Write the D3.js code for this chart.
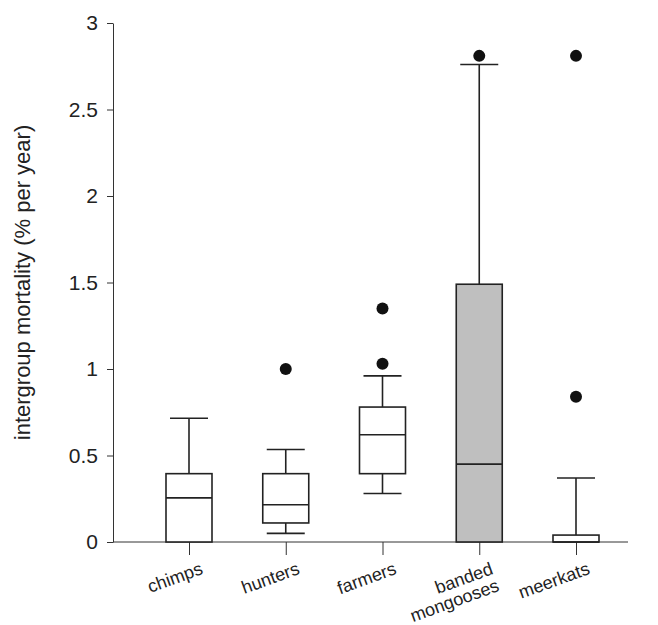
<!DOCTYPE html>
<html><head><meta charset="utf-8">
<script src="https://cdn.jsdelivr.net/npm/d3@7"></script>
<style>body{margin:0;background:#fff}</style></head>
<body><svg id="c" width="658" height="625"></svg>
<script>
const categories = ["chimps","hunters","farmers","banded\nmongooses","meerkats"];
const q1 =      [0,    0.11, 0.395, 0,    0];
const median =  [0.255,0.215,0.62,  0.45, 0];
const q3 =      [0.395,0.395,0.78,  1.49, 0.04];
const whiskLo = [0,    0.05, 0.28,  0,    0];
const whiskHi = [0.715,0.535,0.96,  2.76, 0.37];
const outliers = [[],[1.0],[1.03,1.35],[2.81],[0.84,2.81]];
const fills = ["#fff","#fff","#fff","#bfbfbf","#fff"];
const yTicks = [0,0.5,1,1.5,2,2.5,3];

const svg = d3.select("#c");
const y = d3.scaleLinear().domain([0,3]).range([542,23]);
const x = d3.scalePoint().domain(categories).range([189,576]);
const bw = 46;
const font = "Liberation Sans, Arial, sans-serif";

const ya = svg.append("g").attr("transform","translate(113,0)")
  .call(d3.axisLeft(y).tickValues(yTicks).tickSize(6).tickSizeOuter(0).tickFormat(d3.format("")));
ya.select(".domain").attr("stroke","#333");
ya.selectAll("line").attr("stroke","#333");
ya.selectAll("text").attr("font-family",font).attr("font-size",21).attr("fill","#222").attr("dx",-6);

const xa = svg.append("g").attr("transform","translate(0,"+y(0)+")")
  .call(d3.axisBottom(x).tickSize(13).tickFormat(""));
xa.select(".domain").attr("d","M113,0H628").attr("stroke","#333");
xa.selectAll("line").attr("stroke","#333");

categories.forEach((c,i)=>{
  const cx = x(c);
  const g = svg.append("g").attr("stroke","#222").attr("stroke-width",1.6);
  g.append("line").attr("x1",cx).attr("x2",cx).attr("y1",y(q3[i])).attr("y2",y(whiskHi[i]));
  g.append("line").attr("x1",cx-19).attr("x2",cx+19).attr("y1",y(whiskHi[i])).attr("y2",y(whiskHi[i]));
  if (whiskLo[i] < q1[i]) {
    g.append("line").attr("x1",cx).attr("x2",cx).attr("y1",y(q1[i])).attr("y2",y(whiskLo[i]));
    g.append("line").attr("x1",cx-19).attr("x2",cx+19).attr("y1",y(whiskLo[i])).attr("y2",y(whiskLo[i]));
  }
  g.append("rect").attr("x",cx-bw/2).attr("width",bw).attr("y",y(q3[i])).attr("height",y(q1[i])-y(q3[i])).attr("fill",fills[i]);
  g.append("line").attr("x1",cx-bw/2).attr("x2",cx+bw/2).attr("y1",y(median[i])).attr("y2",y(median[i]));
  outliers[i].forEach(v=>svg.append("circle").attr("cx",cx).attr("cy",y(v)).attr("r",6).attr("fill","#111"));
  const t = svg.append("text").attr("font-family",font).attr("font-size",18).attr("fill","#222")
    .attr("text-anchor","end").attr("transform",`translate(${cx+10},${y(0)+18}) rotate(-20)`);
  c.split("\n").forEach((s,k)=>t.append("tspan").attr("x",0).attr("dy",k?"1.0em":"0.8em").text(s));
});

svg.append("text").attr("font-family",font).attr("font-size",22).attr("fill","#222")
  .attr("text-anchor","middle").attr("transform",`translate(30,${y(1.5)}) rotate(-90)`).text("intergroup mortality (% per year)");
</script></body></html>
